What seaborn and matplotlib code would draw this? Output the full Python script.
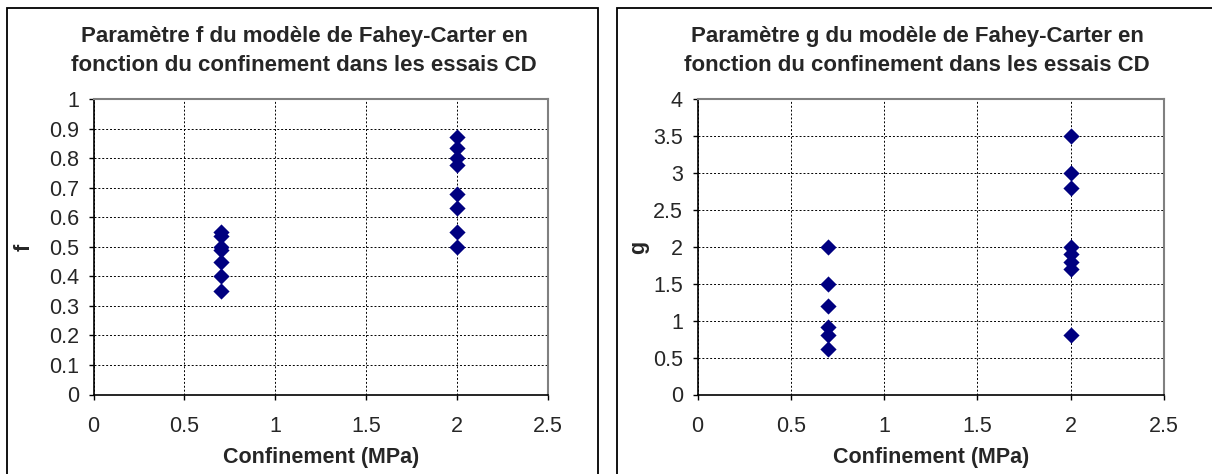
import numpy as np
import pandas as pd
import matplotlib
matplotlib.use("Agg")
import matplotlib.pyplot as plt
from matplotlib.patches import Rectangle
import seaborn as sns

# data
conf_f = [0.7, 0.7, 0.7, 0.7, 0.7, 0.7, 0.7,
          2.0, 2.0, 2.0, 2.0, 2.0, 2.0, 2.0, 2.0]
f_vals = [0.55, 0.535, 0.50, 0.49, 0.45, 0.40, 0.35,
          0.87, 0.835, 0.80, 0.775, 0.68, 0.63, 0.55, 0.50]

conf_g = [0.7, 0.7, 0.7, 0.7, 0.7, 0.7,
          2.0, 2.0, 2.0, 2.0, 2.0, 2.0, 2.0, 2.0]
g_vals = [2.0, 1.5, 1.2, 0.92, 0.81, 0.61,
          3.5, 3.0, 2.8, 2.0, 1.9, 1.8, 1.7, 0.81]

x_ticks = [0, 0.5, 1, 1.5, 2, 2.5]
f_ticks = [0, 0.1, 0.2, 0.3, 0.4, 0.5, 0.6, 0.7, 0.8, 0.9, 1]
g_ticks = [0, 0.5, 1, 1.5, 2, 2.5, 3, 3.5, 4]

titles = ["Paramètre f du modèle de Fahey-Carter en\nfonction du confinement dans les essais CD",
          "Paramètre g du modèle de Fahey-Carter en\nfonction du confinement dans les essais CD"]

sns.set_style("white")
plt.rcParams['font.family'] = ['Liberation Sans', 'DejaVu Sans']

W, H = 1212, 474
fig = plt.figure(figsize=(W / 100, H / 100), dpi=100)

def px_axes(l, r, t, b):
    return fig.add_axes([l / W, 1 - b / H, (r - l) / W, (b - t) / H])

# chart frames
for x0, x1 in [(7, 598), (617, 1216)]:
    fig.patches.append(Rectangle((x0 / W, -0.1), (x1 - x0) / W, 1 - 8 / H + 0.1,
                                 transform=fig.transFigure, fill=False,
                                 edgecolor='black', linewidth=1.3))

panels = [
    (px_axes(93.5, 548, 99, 394.5), conf_f, f_vals, f_ticks, 'f', titles[0], 304, 24),
    (px_axes(697.5, 1164, 99, 394.5), conf_g, g_vals, g_ticks, 'g', titles[1], 917, 639),
]

for ax, xs, ys, yt, lab, title, cx, ylx in panels:
    df = pd.DataFrame({'Confinement': xs, lab: ys})
    sns.scatterplot(data=df, x='Confinement', y=lab, ax=ax, marker='D',
                    color='#000080', s=68, linewidth=0, zorder=3, clip_on=False)
    ax.set_xlim(x_ticks[0], x_ticks[-1])
    ax.set_ylim(yt[0], yt[-1])
    ax.set_xticks(x_ticks)
    ax.set_yticks(yt)
    ax.set_xticklabels([f"{v:g}" for v in x_ticks])
    ax.set_yticklabels([f"{v:g}" for v in yt])
    ax.grid(True, color='black', linestyle=(0, (2, 2)), linewidth=0.7)
    ax.set_axisbelow(True)
    ax.tick_params(axis='both', labelsize=15.5, direction='out', length=3.5,
                   width=1, color='black', left=True, bottom=True)
    ax.tick_params(axis='x', pad=12)
    ax.tick_params(axis='y', pad=7)
    for side in ['top', 'right']:
        ax.spines[side].set_color('#808080')
        ax.spines[side].set_linewidth(1.5)
    for side in ['left', 'bottom']:
        ax.spines[side].set_color('black')
        ax.spines[side].set_linewidth(1.2)
    ax.set_xlabel('')
    ax.set_ylabel('')
    fig.text((ax.get_position().x0 + ax.get_position().x1) / 2, 1 - 457 / H,
             'Confinement (MPa)', ha='center', va='center',
             fontsize=15.5, fontweight='bold')
    fig.text(ylx / W, 1 - 247 / H, lab, rotation=90, ha='center', va='center',
             fontsize=15.5, fontweight='bold')
    fig.text(cx / W, 1 - 51 / H, title, ha='center', va='center',
             fontsize=16, fontweight='bold', linespacing=1.5)

fig.savefig('out.png', dpi=100)
